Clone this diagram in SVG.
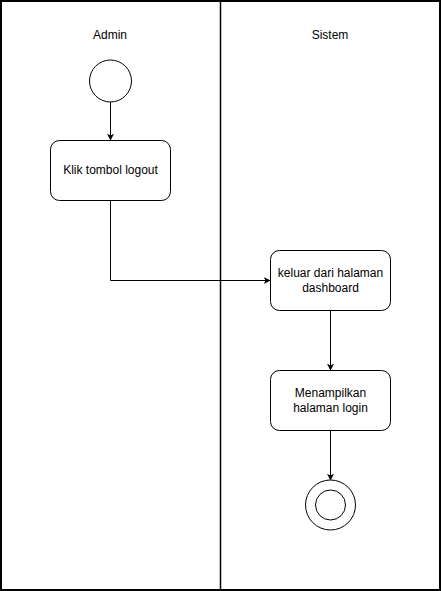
<svg xmlns="http://www.w3.org/2000/svg" width="441" height="591" viewBox="0 0 441 591">
<style>
.t{font-family:"Liberation Sans",Arial,sans-serif;font-size:12px;fill:#000;text-anchor:middle}
.n{fill:#fff;stroke:#000;stroke-width:1}
.e{fill:none;stroke:#000;stroke-width:1}
</style>
<defs>
<marker id="a" viewBox="0 0 10 10" refX="9" refY="5" markerWidth="7" markerHeight="7" orient="auto" markerUnits="userSpaceOnUse">
<path d="M0,0 L10,5 L0,10 L2.5,5 Z" fill="#000"/>
</marker>
</defs>
<rect width="441" height="591" fill="#fff"/>
<g id="lanes">
<rect x="1" y="1" width="439" height="589" fill="none" stroke="#000" stroke-width="2"/>
<line x1="220.5" y1="1" x2="220.5" y2="590" stroke="#000" stroke-width="1.5"/>
<text class="t" x="110" y="39">Admin</text>
<text class="t" x="330" y="39">Sistem</text>
</g>
<g id="connectors">
<path class="e" d="M110.5,102 V140" marker-end="url(#a)"/>
<path class="e" d="M110.5,200 V280.5 H270" marker-end="url(#a)"/>
<path class="e" d="M330.5,310 V370" marker-end="url(#a)"/>
<path class="e" d="M330.5,430 V480" marker-end="url(#a)"/>
</g>
<g id="start"><circle class="n" cx="110.5" cy="81" r="21"/></g>
<g id="klik">
<rect class="n" x="50.5" y="140.5" width="120" height="60" rx="9"/>
<text class="t" x="110.5" y="174">Klik tombol logout</text>
</g>
<g id="keluar">
<rect class="n" x="270.5" y="250.5" width="120" height="60" rx="9"/>
<text class="t" x="330.5" y="277">keluar dari halaman</text>
<text class="t" x="330.5" y="292">dashboard</text>
</g>
<g id="menampilkan">
<rect class="n" x="270.5" y="370.5" width="120" height="60" rx="9"/>
<text class="t" x="330.5" y="397">Menampilkan</text>
<text class="t" x="330.5" y="412">halaman login</text>
</g>
<g id="end">
<circle class="n" cx="330.5" cy="505" r="25"/>
<circle class="n" cx="330.5" cy="505" r="15"/>
</g>
</svg>
